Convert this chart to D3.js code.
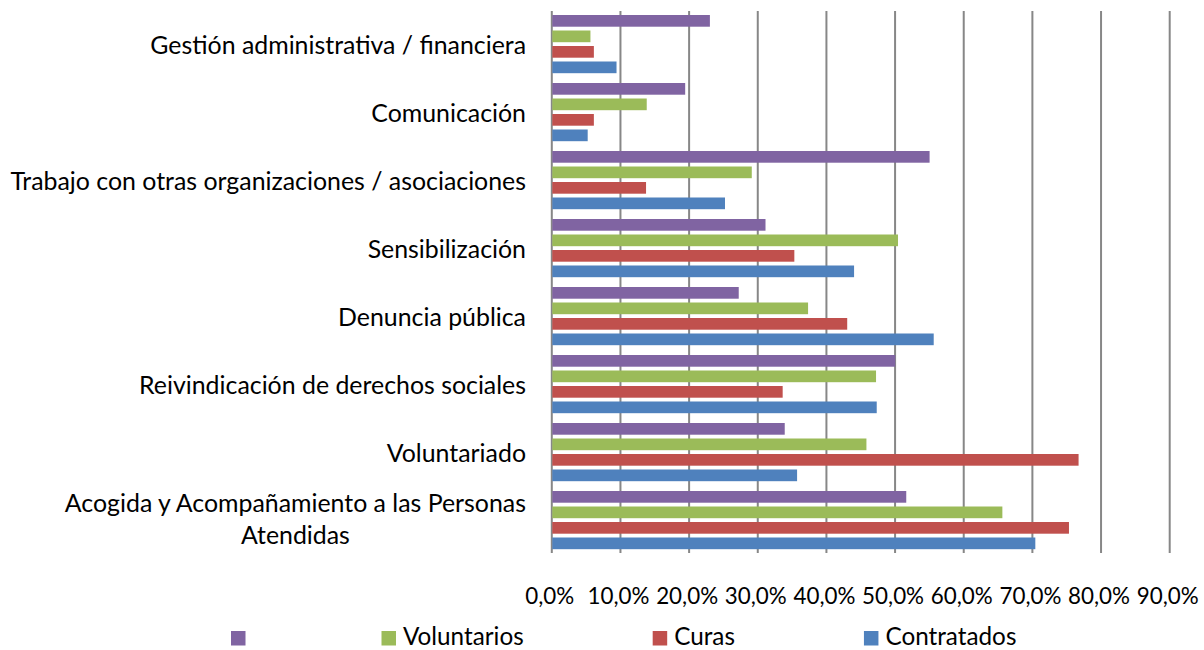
<!DOCTYPE html>
<html>
<head>
<meta charset="utf-8">
<script src="https://cdn.jsdelivr.net/npm/d3@7"></script>
<style>
  html, body { margin: 0; padding: 0; background: #fff; }
  svg { display: block; font-family: Lato, "Open Sans", sans-serif; }
</style>
</head>
<body>
<script>
// categories, top to bottom as in the picture
const categories = [
  "Gestión administrativa / financiera",
  "Comunicación",
  "Trabajo con otras organizaciones / asociaciones",
  "Sensibilización",
  "Denuncia pública",
  "Reivindicación de derechos sociales",
  "Voluntariado",
  "Acogida y Acompañamiento a las Personas Atendidas"
];
// the purple series has no name in the legend
const seriesNames = ["", "Voluntarios", "Curas", "Contratados"];
const seriesColors = ["#8064A2", "#9BBB59", "#C0504D", "#4F81BD"];

const sinNombre   = [23.1, 19.5, 55.1, 31.2, 27.3, 50.1, 34.0, 51.7];
const voluntarios = [5.7, 13.9, 29.2, 50.5, 37.4, 47.3, 45.9, 65.7];
const curas       = [6.2, 6.2, 13.8, 35.4, 43.1, 33.7, 76.8, 75.4];
const contratados = [9.5, 5.3, 25.3, 44.1, 55.7, 47.4, 35.8, 70.5];

const xTicks = [0, 10, 20, 30, 40, 50, 60, 70, 80, 90];

const values = [sinNombre, voluntarios, curas, contratados];
const rows = categories.map((c, i) => ({
  cat: c,
  vals: seriesNames.map((s, j) => ({ serie: j, v: values[j][i] }))
}));

const width = 1204, height = 650;
const plotTop = 11, plotBottom = 555, axisBottom = 553;

const svg = d3.select("body").append("svg")
  .attr("width", width)
  .attr("height", height);

const x = d3.scaleLinear().domain([0, 90]).range([551.3, 1169.2]);
const y0 = d3.scaleBand().domain(categories).range([plotTop, plotBottom]);
const y1 = d3.scaleBand().domain(d3.range(4)).range([4, 62.2]).paddingInner(0.245);

// gridlines (the 0 line doubles as the axis)
const grid = svg.append("g")
  .attr("transform", "translate(0," + axisBottom + ")")
  .call(d3.axisBottom(x).tickValues(xTicks).tickSize(-(axisBottom - plotTop)).tickFormat(""));
grid.select(".domain").remove();
grid.selectAll("line").attr("stroke", "#878787").attr("stroke-width", 2);

// bars
svg.append("g").selectAll("g")
  .data(rows)
  .join("g")
  .attr("transform", d => "translate(0," + y0(d.cat) + ")")
  .selectAll("rect")
  .data(d => d.vals)
  .join("rect")
  .attr("x", x(0) + 1)
  .attr("y", d => y1(d.serie))
  .attr("width", d => x(d.v) - x(0) - 1)
  .attr("height", y1.bandwidth())
  .attr("fill", d => seriesColors[d.serie]);

// fits a font size so that a sample string takes a given width
function fitSize(sample, target) {
  const t = svg.append("text").style("font-size", "24px").text(sample);
  const w = t.node().getComputedTextLength();
  t.remove();
  return 24 * target / w;
}
const catSize = fitSize("Trabajo con otras organizaciones / asociaciones", 516);
const tickSize = fitSize("10,0%", 62);
const legSize = fitSize("Contratados", 131);

// category labels
const labels = svg.append("g")
  .style("font-size", catSize + "px")
  .attr("fill", "#000");
categories.forEach((c, i) => {
  const cy = y0(c) + y0.bandwidth() / 2;
  if (i === categories.length - 1) {
    // long label wraps in two centred lines
    const lines = ["Acogida y Acompañamiento a las Personas", "Atendidas"];
    const t = labels.append("text").attr("text-anchor", "middle");
    const probe = labels.append("text").text(lines[0]);
    const w = probe.node().getComputedTextLength();
    probe.remove();
    lines.forEach((l, k) => {
      t.append("tspan")
        .attr("x", 526 - w / 2)
        .attr("y", cy - 2 + (k - 0.5) * 32)
        .attr("dy", "0.35em")
        .text(l);
    });
  } else {
    labels.append("text")
      .attr("x", 526)
      .attr("y", cy)
      .attr("dy", "0.35em")
      .attr("text-anchor", "end")
      .text(c);
  }
});

// value axis labels
const ax = svg.append("g")
  .attr("transform", "translate(0," + axisBottom + ")")
  .call(d3.axisBottom(x).tickValues(xTicks).tickSize(0)
    .tickFormat(d => d.toFixed(1).replace(".", ",") + "%"));
ax.select(".domain").remove();
ax.selectAll("text")
  .attr("y", 51)
  .attr("dy", 0)
  .attr("x", -2)
  .attr("fill", "#000")
  .style("font-size", tickSize + "px")
  .style("font-family", "Lato, 'Open Sans', sans-serif");

// legend
const legend = svg.append("g").style("font-size", legSize + "px");
let lx = 231;
seriesNames.forEach((s, j) => {
  legend.append("rect")
    .attr("x", lx).attr("y", 631)
    .attr("width", 14.5).attr("height", 14.5)
    .attr("fill", seriesColors[j]);
  const t = legend.append("text")
    .attr("x", lx + 21.5).attr("y", 645)
    .attr("fill", "#000")
    .text(s);
  lx += 21.5 + (s ? t.node().getComputedTextLength() : 0) + 129;
});
</script>
</body>
</html>
